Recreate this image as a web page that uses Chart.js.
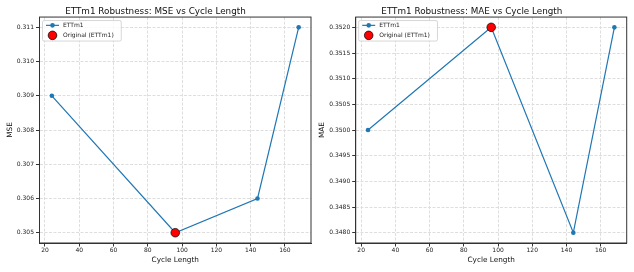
<!DOCTYPE html>
<html>
<head>
<meta charset="utf-8">
<script src="https://cdn.jsdelivr.net/npm/chart.js@4.4.0/dist/chart.umd.min.js"></script>
<style>
  html, body { margin: 0; padding: 0; background: #fff; }
  .panel { position: absolute; top: 0; height: 272px; }
  #left { left: 0; width: 317px; }
  #right { left: 317px; width: 317px; }
</style>
</head>
<body>
<div class="panel" id="left"><canvas id="mse-chart"></canvas></div>
<div class="panel" id="right"><canvas id="mae-chart"></canvas></div>
<script>
const cycleLengths = [24, 96, 144, 168];
const mseValues = [0.309, 0.305, 0.306, 0.311];
const maeValues = [0.350, 0.352, 0.348, 0.352];
const originalCycle = 96;
const originalMse = 0.305;
const originalMae = 0.352;
const xTicks = [20, 40, 60, 80, 100, 120, 140, 160];
const mseTicks = [0.305, 0.306, 0.307, 0.308, 0.309, 0.310, 0.311];
const maeTicks = [0.348, 0.3485, 0.349, 0.3495, 0.350, 0.3505, 0.351, 0.3515, 0.352];

const FONT = 'DejaVu Sans';
const BLUE = '#1f77b4';

// top/right spines + legend box inside the axes, like matplotlib
const framePlugin = {
  id: 'frame',
  afterDraw(chart) {
    const {ctx, chartArea: a} = chart;
    ctx.save();
    ctx.strokeStyle = '#333';
    ctx.lineWidth = 1;
    ctx.strokeRect(a.left, a.top, a.right - a.left, a.bottom - a.top);

    // legend
    const x0 = a.left + 3, y0 = a.top + 3.5;
    ctx.font = '6px "' + FONT + '"';
    const w = 8 + 16 + Math.max(...chart.data.datasets.map(d => ctx.measureText(d.label).width)) + 4;
    ctx.fillStyle = 'rgba(255,255,255,0.8)';
    ctx.strokeStyle = '#ccc';
    ctx.lineWidth = 0.8;
    ctx.beginPath();
    ctx.roundRect(x0, y0, w, 20.5, 1.5);
    ctx.fill();
    ctx.stroke();
    chart.data.datasets.forEach((d, i) => {
      const cy = y0 + 4.8 + i * 10;
      if (d.showLine !== false) {
        ctx.strokeStyle = d.borderColor;
        ctx.lineWidth = d.borderWidth;
        ctx.beginPath();
        ctx.moveTo(x0 + 3.5, cy);
        ctx.lineTo(x0 + 16.5, cy);
        ctx.stroke();
      }
      ctx.fillStyle = d.pointBackgroundColor;
      ctx.strokeStyle = d.pointBorderColor;
      ctx.lineWidth = d.pointBorderWidth;
      ctx.beginPath();
      ctx.arc(x0 + 10, cy, d.pointRadius, 0, Math.PI * 2);
      ctx.fill();
      if (d.pointBorderWidth) ctx.stroke();
      ctx.fillStyle = '#222';
      ctx.textBaseline = 'middle';
      ctx.fillText(d.label, x0 + 20.5, cy + 0.3);
    });
    ctx.restore();
  }
};

function makeChart(id, opts) {
  return new Chart(document.getElementById(id), {
    type: 'line',
    data: {
      datasets: [{
        label: 'ETTm1',
        data: cycleLengths.map((c, i) => ({x: c, y: opts.values[i]})),
        borderColor: BLUE,
        backgroundColor: BLUE,
        borderWidth: 1.2,
        pointRadius: 2.3,
        pointBackgroundColor: BLUE,
        pointBorderColor: BLUE,
        pointBorderWidth: 0,
        fill: false,
        tension: 0,
        order: 2
      }, {
        label: 'Original (ETTm1)',
        data: [{x: originalCycle, y: opts.original}],
        showLine: false,
        pointRadius: 4.3,
        pointBackgroundColor: '#ff0000',
        pointBorderColor: '#000',
        pointBorderWidth: 0.7,
        borderColor: '#000',
        order: 1
      }]
    },
    options: {
      responsive: true,
      maintainAspectRatio: false,
      animation: false,
      layout: { padding: { left: 0, right: opts.padRight, top: 0, bottom: 0 } },
      plugins: {
        legend: { display: false },
        tooltip: { enabled: false },
        title: {
          display: true,
          text: opts.title,
          color: '#111',
          font: { family: FONT, size: 8.8, weight: 'normal' },
          padding: { top: 6, bottom: 0.5 }
        }
      },
      scales: {
        x: {
          type: 'linear',
          min: 16.8,
          max: 175.2,
          afterBuildTicks: s => { s.ticks = xTicks.map(v => ({value: v})); },
          afterFit: s => { s.height = 29; },
          ticks: {
            color: '#222',
            font: { family: FONT, size: 6 },
            padding: 0.8,
            maxRotation: 0,
            callback: v => v
          },
          grid: { color: '#dedede', tickColor: '#333', tickLength: 3.5, tickBorderDash: [] },
          border: { display: true, color: '#333', dash: [3, 1.5] },
          title: {
            display: true,
            text: 'Cycle Length',
            color: '#111',
            font: { family: FONT, size: 7.3 },
            padding: { top: 0, bottom: 7.5 }
          }
        },
        y: {
          min: opts.yMin,
          max: opts.yMax,
          afterBuildTicks: s => { s.ticks = opts.ticks.map(v => ({value: v})); },
          afterFit: s => { s.width = opts.yWidth; },
          ticks: {
            color: '#222',
            font: { family: FONT, size: 6 },
            padding: 2,
            callback: v => v.toFixed(opts.decimals)
          },
          grid: { color: '#dedede', tickColor: '#333', tickLength: 3.5, tickBorderDash: [] },
          border: { display: true, color: '#333', dash: [3, 1.5] },
          title: {
            display: true,
            text: opts.yLabel,
            color: '#111',
            font: { family: FONT, size: 7.3 },
            padding: { top: opts.yTitlePad, bottom: 0 }
          }
        }
      }
    },
    plugins: [framePlugin]
  });
}

makeChart('mse-chart', {
  title: 'ETTm1 Robustness: MSE vs Cycle Length',
  values: mseValues, original: originalMse, ticks: mseTicks,
  yMin: 0.3047, yMax: 0.3113, decimals: 3, yLabel: 'MSE',
  yWidth: 39.5, yTitlePad: 5.6, padRight: 6
});

makeChart('mae-chart', {
  title: 'ETTm1 Robustness: MAE vs Cycle Length',
  values: maeValues, original: originalMae, ticks: maeTicks,
  yMin: 0.3478, yMax: 0.3522, decimals: 4, yLabel: 'MAE',
  yWidth: 38.7, yTitlePad: 0.8, padRight: 7.3
});
</script>
</body>
</html>
